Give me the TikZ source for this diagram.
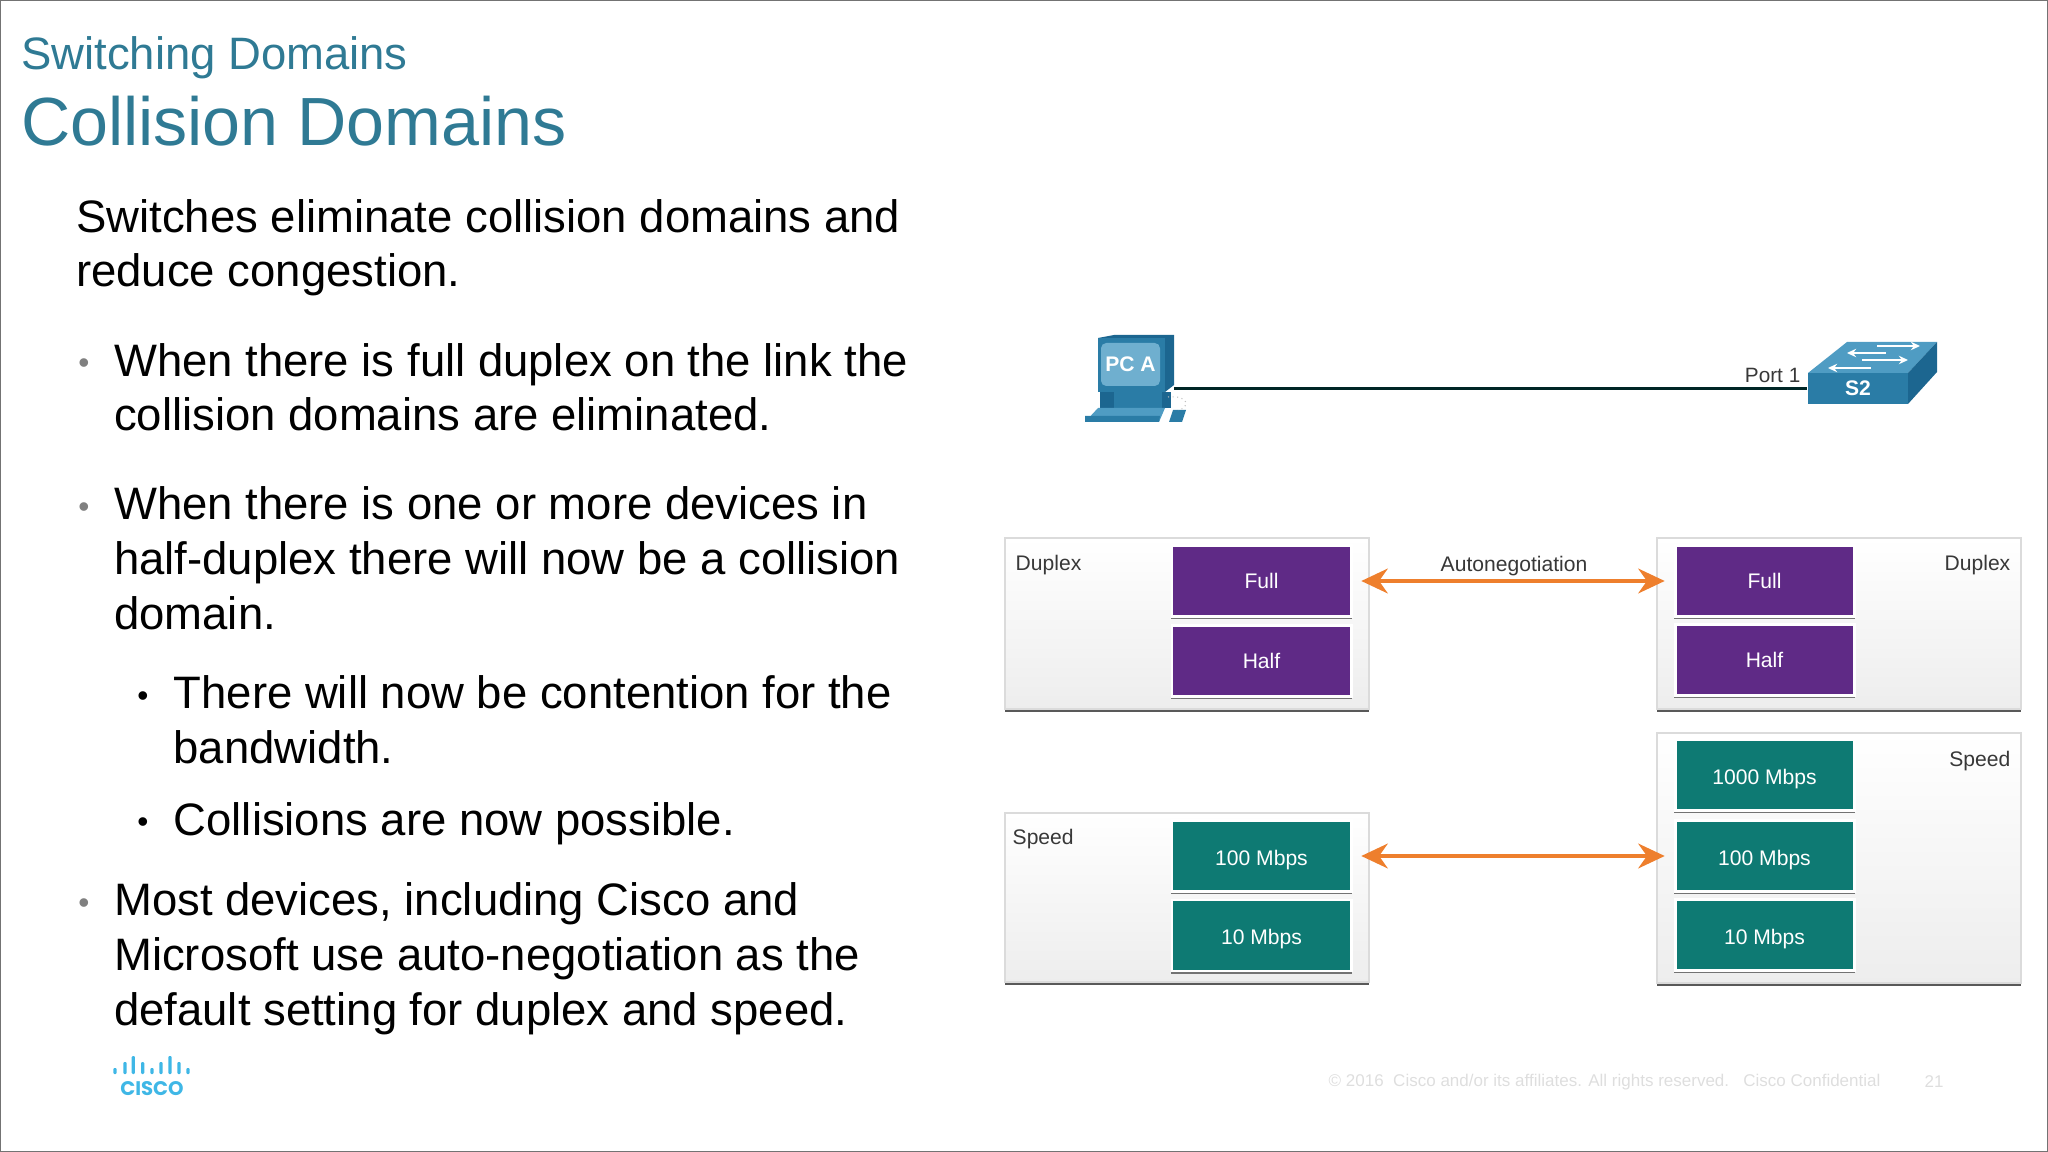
\documentclass[tikz,border=0pt]{standalone}
\usepackage{fontspec}
\setmainfont{Liberation Sans}
\newfontfamily\logofont{Poppins}[Scale=1]
\usetikzlibrary{calc,positioning,arrows.meta,shadows}
\definecolor{titleteal}{HTML}{2F7A94}
\definecolor{btnpurple}{HTML}{5F2A86}
\definecolor{btnteal}{HTML}{0E7A73}
\definecolor{linkorange}{HTML}{EE7F2D}
\definecolor{iconblue}{HTML}{2A7CA6}
\definecolor{icondark}{HTML}{1C6690}
\definecolor{iconlight}{HTML}{4F9CC3}
\definecolor{iconscreen}{HTML}{6FAFCF}
\definecolor{ciscoblue}{HTML}{3FB7E6}
\tikzset{
    bodytext/.style={anchor=north west, inner sep=0pt, align=left, text=black, font=\fontsize{12.94}{15.6}\selectfont},
    bulletmark/.style={anchor=center, inner sep=0pt, font=\fontsize{9}{10}\selectfont},
    panel/.style={anchor=north west, minimum width=3.64cm, top color=white, bottom color=black!7, general shadow={fill=black!65, shadow xshift=0pt, shadow yshift=-.9pt}, draw=black!14, line width=.5pt},
    panellabel/.style={inner sep=0pt, text=black!78, font=\fontsize{6}{7}\selectfont},
    btn/.style={minimum width=1.79cm, minimum height=.71cm, inner sep=0pt, draw=white, line width=.85pt, text=white, text depth=0pt, text height=4.4pt, font=\fontsize{6}{7}\selectfont, general shadow={fill=black!55, shadow xshift=0pt, shadow yshift=-.7pt, shadow scale=1.012}},
    purplebtn/.style={btn, fill=btnpurple},
    tealbtn/.style={btn, fill=btnteal, text height=5.4pt},
    autoarrow/.style={{Stealth[length=7.5pt,width=7pt]}-{Stealth[length=7.5pt,width=7pt]}, linkorange, line width=1.3pt, shorten <=2.5pt, shorten >=2.5pt},
    iconlabel/.style={inner sep=0pt, text=white, font=\bfseries\fontsize{6}{7}\selectfont},
}
\begin{document}
\begin{tikzpicture}[y=-1cm]
    \useasboundingbox (0,0) rectangle (20.48,11.52);
    \draw[black!55, line width=.7pt] (0,0) rectangle (20.48,11.52);

    % Titles
    \node[anchor=north west, inner sep=0pt, text=titleteal, font=\fontsize{12.93}{15}\selectfont] (subtitle) at (0.205,0.355) {Switching Domains};
    \node[anchor=north west, inner sep=0pt, text=titleteal, font=\fontsize{19.4}{23}\selectfont] (title) at (0.205,0.955) {Collision Domains};

    % Text on the left
    \node[bodytext] (intro) at (0.755,1.985) {Switches eliminate collision domains and\\reduce congestion.};
    \node[bodytext] (fullpara) at (1.135,3.425) {When there is full duplex on the link the\\collision domains are eliminated.};
    \node[bodytext] (halfpara) at (1.135,4.86) {When there is one or more devices in\\half-duplex there will now be a collision\\domain.};
    \node[bodytext] (contpara) at (1.73,6.75) {There will now be contention for the\\bandwidth.};
    \node[bodytext] (collpara) at (1.73,8.02) {Collisions are now possible.};
    \node[bodytext] (autopara) at (1.135,8.82) {Most devices, including Cisco and\\Microsoft use auto-negotiation as the\\default setting for duplex and speed.};
    \node[bulletmark, text=black!50] (bulleta) at (0.84,3.66) {•};
    \node[bulletmark, text=black!50] (bulletb) at (0.84,5.10) {•};
    \node[bulletmark] (bulletc) at (1.43,6.99) {•};
    \node[bulletmark] (bulletd) at (1.43,8.25) {•};
    \node[bulletmark, text=black!50] (bullete) at (0.84,9.06) {•};

    % PC A
    \fill[icondark] (11.0,3.92) rectangle (11.71,4.08);
    \fill[iconblue] (11.14,3.92) rectangle (11.62,4.08);
    \fill[iconlight] (10.98,4.08) -- (11.65,4.08) -- (11.59,4.22) -- (10.85,4.22) -- cycle;
    \fill[iconblue] (10.85,4.16) -- (11.6,4.16) -- (11.59,4.22) -- (10.85,4.22) -- cycle;
    \fill[icondark] (11.14,3.35) -- (11.74,3.35) -- (11.74,3.85) -- (11.65,3.92) -- (10.98,3.92) -- (10.98,3.38) -- cycle;
    \fill[iconblue] (10.98,3.38) rectangle (11.65,3.92);
    \node[rounded corners=1.5pt, fill=iconscreen, minimum width=.59cm, minimum height=.43cm, inner sep=0pt, text=white, font=\bfseries\fontsize{6}{7}\selectfont] (pca) at (11.305,3.645) {PC A};
    \fill[iconblue] (11.69,4.22) -- (11.73,4.1) -- (11.86,4.1) -- (11.82,4.22) -- cycle;
    \draw[black!25, line width=.3pt, densely dotted] (11.68,3.97) .. controls (11.9,3.95) and (11.9,4.08) .. (11.78,4.1);

    % S2
    \fill[iconlight] (18.08,3.73) -- (18.47,3.42) -- (19.37,3.42) -- (19.08,3.73) -- cycle;
    \fill[icondark] (19.08,3.73) -- (19.37,3.42) -- (19.37,3.72) -- (19.08,4.04) -- cycle;
    \node[minimum width=1cm, minimum height=.31cm, inner sep=0pt, fill=iconblue, iconlabel] (s2) at (18.58,3.885) {S2};
    \foreach \xa/\xb/\yy in {18.77/19.2/3.46, 18.86/18.47/3.53, 18.62/19.08/3.60, 18.71/18.28/3.68} {
        \draw[white, line width=.6pt, -{Stealth[length=2.6pt,width=2.4pt]}] (\xa,\yy) -- (\xb,\yy);
    }

    % Link between PC and switch
    \coordinate (pclink) at (11.74,3.885);
    \draw[black!70!teal, line width=1.1pt] (pclink) -- (s2.west);
    \node[anchor=east, inner sep=0pt, text=black!78, font=\fontsize{5.9}{7}\selectfont] (portone) at (18.01,3.75) {Port 1};

    % Panels
    \node[panel, minimum height=1.71cm] (duplexleft) at (10.04,5.37) {};
    \node[panel, minimum height=1.71cm] (duplexright) at (16.56,5.37) {};
    \node[panel, minimum height=1.69cm] (speedleft) at (10.04,8.12) {};
    \node[panel, minimum height=2.5cm] (speedright) at (16.56,7.32) {};
    \node[panellabel, anchor=west] (duplexlabela) at (10.15,5.655) {Duplex};
    \node[panellabel, anchor=east] (duplexlabelb) at (20.11,5.655) {Duplex};
    \node[panellabel, anchor=west] (speedlabela) at (10.12,8.395) {Speed};
    \node[panellabel, anchor=east] (speedlabelb) at (20.11,7.615) {Speed};

    % Buttons
    \foreach \name/\x/\y/\txt in {fullleft/12.615/5.81/Full, halfleft/12.615/6.61/Half, fullright/17.645/5.81/Full, halfright/17.645/6.60/Half} {
        \node[purplebtn] (\name) at (\x,\y) {\txt};
    }
    \foreach \name/\x/\y/\txt in {hundredleft/12.615/8.56/100 Mbps, tenleft/12.615/9.355/10 Mbps, thousandright/17.645/7.75/1000 Mbps, hundredright/17.645/8.56/100 Mbps, tenright/17.645/9.35/10 Mbps} {
        \node[tealbtn] (\name) at (\x,\y) {\txt};
    }

    % Autonegotiation arrows
    \draw[autoarrow] (fullleft.east) -- (fullright.west);
    \draw[autoarrow] (hundredleft.east) -- (hundredright.west);
    \node[panellabel] (autoneg) at (15.14,5.665) {Autonegotiation};

    % Cisco logo
    \foreach \x/\h in {1.15/.06, 1.25/.12, 1.333/.18, 1.427/.12, 1.52/.06, 1.61/.12, 1.70/.18, 1.79/.12, 1.88/.06} {
        \fill[ciscoblue, rounded corners=.3pt] (\x-.016,10.74) rectangle (\x+.016,10.74-\h);
    }
    \node[inner sep=0pt, text=ciscoblue, font=\logofont\bfseries\fontsize{5.6}{6}\selectfont] (ciscologo) at (1.52,10.89) {CISCO};

    % Footer
    \node[anchor=west, inner sep=0pt, text=black!13, font=\fontsize{4.84}{6}\selectfont] (copyright) at (13.28,10.82) {© 2016\ \ Cisco and/or its affiliates. All rights reserved.\ \ \ Cisco Confidential};
    \node[anchor=west, inner sep=0pt, text=black!13, font=\fontsize{4.84}{6}\selectfont] (pagenum) at (19.24,10.82) {21};
\end{tikzpicture}
\end{document}
